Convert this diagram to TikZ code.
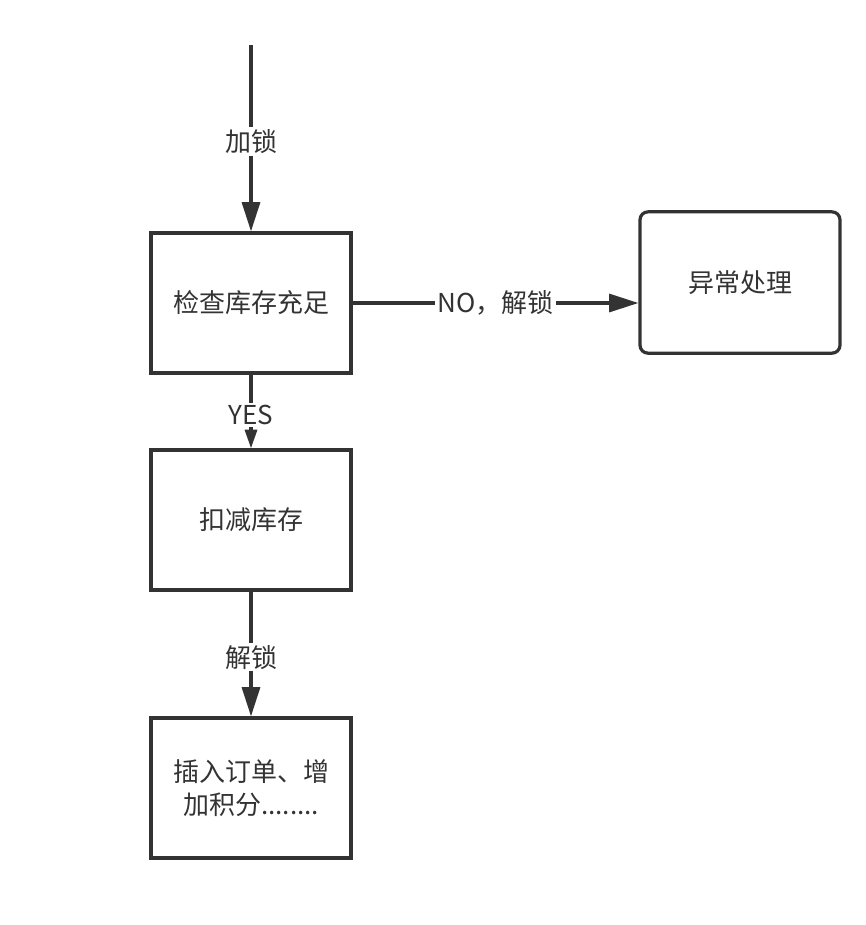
\documentclass[tikz,border=0pt]{standalone}
\usepackage{fontspec}
\setmainfont{Noto Sans CJK SC}
\usetikzlibrary{arrows.meta,positioning}
\definecolor{ink}{HTML}{333333}

\begin{document}
\begin{tikzpicture}[x=0.75pt,y=-0.75pt,line join=miter,
    box/.style={draw=ink,line width=2.4pt,minimum width=150pt,minimum height=105pt,
      align=center,text=ink,font=\fontsize{19.5}{25}\selectfont},
    lbl/.style={fill=white,text=ink,inner sep=1.5pt,yshift=-2.5pt,font=\fontsize{19.5}{25}\selectfont},
    flow/.style={draw=ink,line width=2.4pt,-{Triangle[length=22pt,width=13.5pt]}}]
  \useasboundingbox (0,0) rectangle (866,925);
  \coordinate (start) at (251,45);
  \node[box] (check) at (251,303) {检查库存充足};
  \node[box] (deduct) at (251,520) {扣减库存};
  \node[box] (order) at (251,788) {插入订单、增\\加积分........};
  \node[box,rounded corners=6pt,minimum height=106pt] (error) at (740,282.5) {异常处理};
  \draw[flow] (start) -- node[lbl] {加锁} (check);
  \draw[flow] (check.east) -- node[lbl,yshift=2.5pt] {NO，解锁} (check.east -| error.west);
  \draw[flow,-{Triangle[length=14pt,width=9pt]}] (check) -- node[lbl] {YES} (deduct);
  \draw[flow] (deduct) -- node[lbl] {解锁} (order);
\end{tikzpicture}
\end{document}
